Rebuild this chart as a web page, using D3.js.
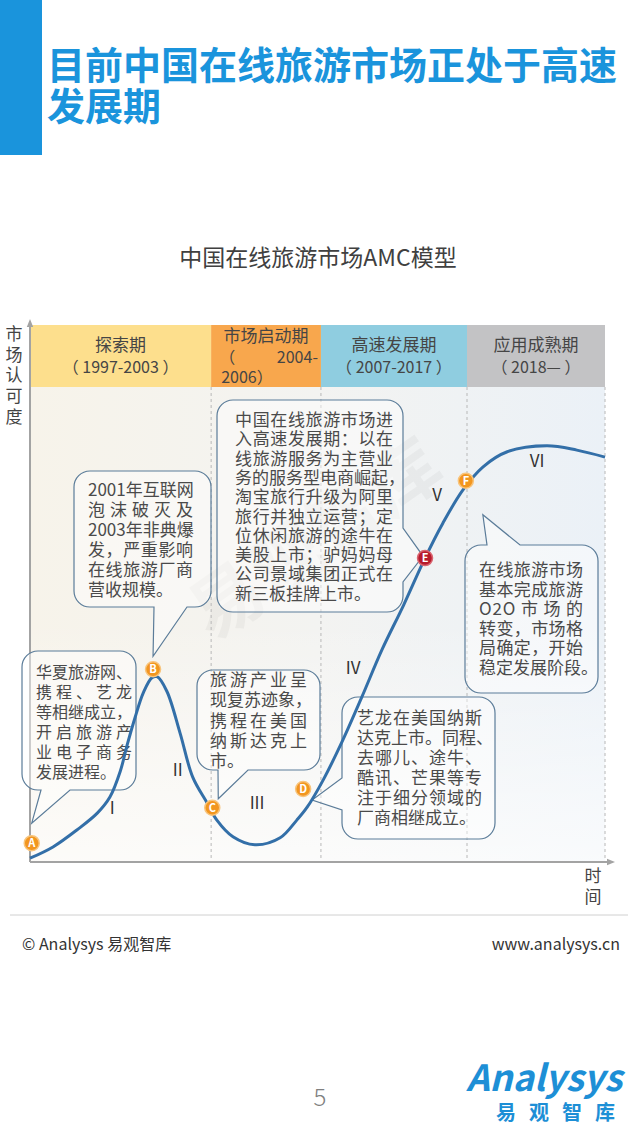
<!DOCTYPE html>
<html>
<head>
<meta charset="utf-8">
<script src="https://cdn.jsdelivr.net/npm/d3@7"></script>
<style>
body { margin: 0; background: #fff; }
svg { display: block; }
text { font-family: "Noto Sans CJK SC", "Noto Sans", sans-serif; }
</style>
</head>
<body>
<script>
// page is 640 x 1138
var W = 640, H = 1138;

// phases in the top band (time runs 0..100 along x)
var phaseNames = ['探索期', '市场启动期', '高速发展期', '应用成熟期'];
var phaseYears = ['（ 1997-2003 ）', '（2004-2006）', '（ 2007-2017 ）', '（ 2018— ）'];
var phaseEnds = [31.5, 50.6, 76, 100];

// the AMC curve (time, recognition)
var curveT = [0, 4.0, 8.2, 11.7, 13.9, 15.7, 16.9, 18.3, 19.7, 21.2, 22.1, 23.8, 26.1, 28.3, 30.8, 32.5,
  35.3, 39.1, 43.5, 46.4, 48.2, 51.0, 54.4, 57.7, 61.2, 65.0, 68.7, 71.8, 75.3, 78.8, 83.0, 89.9, 95.1, 100];
var curveV = [0.7, 2.8, 6.0, 9.1, 12.1, 16.9, 21.8, 27.0, 31.5, 34.3, 34.5, 31.8, 24.0, 15.8, 11.0, 7.8,
  4.7, 3.2, 4.5, 7.8, 10.2, 15.3, 22.7, 30.7, 39.5, 47.9, 56.6, 63.1, 69.3, 73.6, 76.4, 77.5, 76.7, 75.4];

// key points on the curve
var markerNames = ['A', 'B', 'C', 'D', 'E', 'F'];
var markerT = [0.3, 21.4, 31.7, 47.5, 68.7, 75.8];
var markerV = [3.5, 35.9, 10.1, 13.6, 56.6, 71.0];

// stage numerals
var stageNames = ['I', 'II', 'III', 'IV', 'V', 'VI'];
var stageT = [14.3, 25.7, 39.5, 56.2, 70.8, 88.2];
var stageV = [10.1, 17.1, 11.0, 36.1, 68.3, 74.7];

// callout texts, one per marker
var notes = [
  ['华夏旅游网、', '携程、艺龙', '等相继成立，', '开启旅游产', '业电子商务', '发展进程。'],
  ['2001年互联网', '泡沫破灭及', '2003年非典爆', '发，严重影响', '在线旅游厂商', '营收规模。'],
  ['旅游产业呈', '现复苏迹象，', '携程在美国', '纳斯达克上', '市。'],
  ['艺龙在美国纳斯', '达克上市。同程、', '去哪儿、途牛、', '酷讯、芒果等专', '注于细分领域的', '厂商相继成立。'],
  ['中国在线旅游市场进', '入高速发展期：以在', '线旅游服务为主营业', '务的服务型电商崛起，', '淘宝旅行升级为阿里',
   '旅行并独立运营；定', '位休闲旅游的途牛在', '美股上市；驴妈妈母', '公司景域集团正式在', '新三板挂牌上市。'],
  ['在线旅游市场', '基本完成旅游', 'O2O 市 场 的', '转变，市场格', '局确定，开始', '稳定发展阶段。']
];

var phaseColors = ['#fddf8d', '#f8a74d', '#8fcde0', '#c3c3c5'];

var svg = d3.select('body').append('svg')
  .attr('width', W)
  .attr('height', H);

var defs = svg.append('defs');

var bg = defs.append('linearGradient').attr('id', 'bg');
bg.append('stop').attr('offset', '0').attr('stop-color', '#f7f3ea');
bg.append('stop').attr('offset', '0.5').attr('stop-color', '#f3f3f1');
bg.append('stop').attr('offset', '1').attr('stop-color', '#ebf1f7');

var fade = defs.append('linearGradient').attr('id', 'fade')
  .attr('x1', 0).attr('y1', 0).attr('x2', 0).attr('y2', 1);
fade.append('stop').attr('offset', '0').attr('stop-color', '#fff').attr('stop-opacity', 0);
fade.append('stop').attr('offset', '1').attr('stop-color', '#fff').attr('stop-opacity', 0.7);

defs.append('marker')
  .attr('id', 'arrow')
  .attr('viewBox', '0 0 10 10')
  .attr('refX', 5).attr('refY', 5)
  .attr('markerWidth', 4).attr('markerHeight', 4)
  .attr('orient', 'auto')
  .append('path')
  .attr('d', 'M0,1L10,5L0,9Z')
  .attr('fill', '#a3a3a3');

// header block
svg.append('rect')
  .attr('x', 0).attr('y', 0)
  .attr('width', 42).attr('height', 155)
  .attr('fill', '#1a94dc');

svg.append('text')
  .attr('x', 47).attr('y', 79)
  .attr('font-size', 38).attr('font-weight', 700)
  .attr('fill', '#1a94dc')
  .text('目前中国在线旅游市场正处于高速');
svg.append('text')
  .attr('x', 47).attr('y', 120)
  .attr('font-size', 38).attr('font-weight', 700)
  .attr('fill', '#1a94dc')
  .text('发展期');

svg.append('text')
  .attr('x', 318).attr('y', 266)
  .attr('text-anchor', 'middle')
  .attr('font-size', 23)
  .attr('fill', '#404040')
  .text('中国在线旅游市场AMC模型');

// scales
var x = d3.scaleLinear().domain([0, 100]).range([30, 605]);
var y = d3.scaleLinear().domain([0, 100]).range([862, 325]);
var bandBottom = 387;

// plot background
svg.append('rect')
  .attr('x', x(0)).attr('y', bandBottom)
  .attr('width', x(100) - x(0)).attr('height', y(0) - bandBottom)
  .attr('fill', 'url(#bg)');
svg.append('rect')
  .attr('x', x(0)).attr('y', 620)
  .attr('width', x(100) - x(0)).attr('height', y(0) - 620)
  .attr('fill', 'url(#fade)');

// faint watermark
svg.append('text')
  .attr('transform', 'translate(330,560) rotate(-35)')
  .attr('text-anchor', 'middle')
  .attr('font-size', 72).attr('font-weight', 700)
  .attr('fill', '#000').attr('fill-opacity', 0.035)
  .text('易观智库');

// phase bands
var phaseStarts = [0].concat(phaseEnds.slice(0, -1));
var phases = phaseNames.map(function(n, i) {
  return {name: n, years: phaseYears[i], t0: phaseStarts[i], t1: phaseEnds[i], color: phaseColors[i]};
});

svg.selectAll('.band')
  .data(phases)
  .enter()
  .append('rect')
  .attr('class', 'band')
  .attr('x', function(d) { return x(d.t0); })
  .attr('y', y(100))
  .attr('width', function(d) { return x(d.t1) - x(d.t0); })
  .attr('height', bandBottom - y(100))
  .attr('fill', function(d) { return d.color; });

svg.selectAll('.divider')
  .data(phases)
  .enter()
  .append('line')
  .attr('class', 'divider')
  .attr('x1', function(d) { return x(d.t1); })
  .attr('x2', function(d) { return x(d.t1); })
  .attr('y1', bandBottom)
  .attr('y2', y(0))
  .attr('stroke', '#b8b8b8')
  .attr('stroke-dasharray', '3,3');

phases.forEach(function(d) {
  var cx = (x(d.t0) + x(d.t1)) / 2;
  var colW = x(d.t1) - x(d.t0);
  var g = svg.append('g').attr('fill', '#454545');
  if (colW < 130) {
    // narrow column: years wrap onto two lines
    var parts = d.years.split('-');
    g.append('text').attr('x', cx).attr('y', 342)
      .attr('text-anchor', 'middle').attr('font-size', 17).text(d.name);
    g.append('text').attr('x', x(d.t0) + 8).attr('y', 363)
      .attr('font-size', 16).text('（');
    g.append('text').attr('x', x(d.t1) - 3).attr('y', 363)
      .attr('text-anchor', 'end').attr('font-size', 16).text(parts[0].replace('（', '') + '-');
    g.append('text').attr('x', x(d.t0) + 10).attr('y', 383)
      .attr('font-size', 16).text(parts[1]);
  } else {
    g.append('text').attr('x', cx).attr('y', 351)
      .attr('text-anchor', 'middle').attr('font-size', 17).text(d.name);
    g.append('text').attr('x', cx).attr('y', 373)
      .attr('text-anchor', 'middle').attr('font-size', 16).text(d.years);
  }
});

// axes
svg.append('line')
  .attr('x1', x(0)).attr('y1', y(0))
  .attr('x2', x(0)).attr('y2', y(100) - 2)
  .attr('stroke', '#a3a3a3').attr('stroke-width', 2)
  .attr('marker-end', 'url(#arrow)');
svg.append('line')
  .attr('x1', x(0)).attr('y1', y(0))
  .attr('x2', x(100) + 6).attr('y2', y(0))
  .attr('stroke', '#a3a3a3').attr('stroke-width', 2)
  .attr('marker-end', 'url(#arrow)');

var yTitle = '市场认可度'.split('');
svg.selectAll('.ytitle')
  .data(yTitle)
  .enter()
  .append('text')
  .attr('class', 'ytitle')
  .attr('x', 14)
  .attr('y', function(d, i) { return 340 + i * 20.7; })
  .attr('text-anchor', 'middle')
  .attr('font-size', 17)
  .attr('fill', '#444')
  .text(function(d) { return d; });

['时', '间'].forEach(function(c, i) {
  svg.append('text')
    .attr('x', 593).attr('y', 882 + i * 21)
    .attr('text-anchor', 'middle')
    .attr('font-size', 17).attr('fill', '#444')
    .text(c);
});

// callout bubbles (layout in pixels, tail tip hooks to the marker)
var bubbles = [
  {x: 22,  y: 651, w: 114, h: 139, side: 'bottom', b1: 19, b2: 48,  dx: 0,   dy: -20, tx: 36,  ty: 678, lh: 20,   fs: 16, tw: 96},
  {x: 74,  y: 471, w: 137, h: 136, side: 'bottom', b1: 80, b2: 113, dx: 0,   dy: -13, tx: 88,  ty: 496, lh: 20,   fs: 17, tw: 105},
  {x: 197, y: 670, w: 123, h: 100, side: 'bottom', b1: 21, b2: 51,  dx: 6,   dy: -9,  tx: 210, ty: 686, lh: 20.3, fs: 17, tw: 97},
  {x: 342, y: 697, w: 153, h: 142, side: 'left',   b1: 81, b2: 113, dx: 9,   dy: 11,  tx: 357, ty: 724, lh: 20,   fs: 17, tw: 125},
  {x: 217, y: 400, w: 186, h: 212, side: 'right',  b1: 128, b2: 182, dx: -2, dy: -2,  tx: 235, ty: 426, lh: 19.3, fs: 17, tw: 158},
  {x: 465, y: 545, w: 133, h: 148, side: 'top',    b1: 22, b2: 55,  dx: 17,  dy: 34,  tx: 479, ty: 576, lh: 19.5, fs: 17, tw: 104}
];

function bubblePath(b, tip) {
  var bx = b.x, by = b.y, w = b.w, h = b.h, r = 16;
  var p = d3.path();
  p.moveTo(bx + r, by);
  if (b.side === 'top') { p.lineTo(bx + b.b1, by); p.lineTo(tip[0], tip[1]); p.lineTo(bx + b.b2, by); }
  p.lineTo(bx + w - r, by);
  p.arcTo(bx + w, by, bx + w, by + r, r);
  if (b.side === 'right') { p.lineTo(bx + w, by + b.b1); p.lineTo(tip[0], tip[1]); p.lineTo(bx + w, by + b.b2); }
  p.lineTo(bx + w, by + h - r);
  p.arcTo(bx + w, by + h, bx + w - r, by + h, r);
  if (b.side === 'bottom') { p.lineTo(bx + b.b2, by + h); p.lineTo(tip[0], tip[1]); p.lineTo(bx + b.b1, by + h); }
  p.lineTo(bx + r, by + h);
  p.arcTo(bx, by + h, bx, by + h - r, r);
  if (b.side === 'left') { p.lineTo(bx, by + b.b2); p.lineTo(tip[0], tip[1]); p.lineTo(bx, by + b.b1); }
  p.lineTo(bx, by + r);
  p.arcTo(bx, by, bx + r, by, r);
  p.closePath();
  return p.toString();
}

bubbles.forEach(function(b, i) {
  var tip = [x(markerT[i]) + b.dx, y(markerV[i]) + b.dy];
  svg.append('path')
    .attr('d', bubblePath(b, tip))
    .attr('fill', '#fff').attr('fill-opacity', 0.45)
    .attr('stroke', '#5b7c99').attr('stroke-width', 1.2);

  var lines = notes[i];
  lines.forEach(function(line, j) {
    var t = svg.append('text')
      .attr('x', b.tx)
      .attr('y', b.ty + j * b.lh)
      .attr('font-size', b.fs)
      .attr('fill', '#4a4a4a')
      .text(line);
    // justify all but the last line, like the original text boxes
    if (j < lines.length - 1) {
      var len = t.node().getComputedTextLength();
      if (len < b.tw) t.attr('textLength', b.tw).attr('lengthAdjust', 'spacing');
    }
  });
});

// the curve
var pts = curveT.map(function(t, i) { return {t: t, v: curveV[i]}; });
var line = d3.line()
  .x(function(d) { return x(d.t); })
  .y(function(d) { return y(d.v); })
  .curve(d3.curveCatmullRom.alpha(0.5));

svg.append('path')
  .datum(pts)
  .attr('d', line)
  .attr('fill', 'none')
  .attr('stroke', '#336fa8')
  .attr('stroke-width', 3);

// stage numerals
svg.selectAll('.stage')
  .data(stageNames)
  .enter()
  .append('text')
  .attr('class', 'stage')
  .attr('x', function(d, i) { return x(stageT[i]); })
  .attr('y', function(d, i) { return y(stageV[i]) + 6; })
  .attr('text-anchor', 'middle')
  .attr('font-family', 'Open Sans, sans-serif')
  .attr('font-size', 17)
  .attr('fill', '#333')
  .text(function(d) { return d; });

// markers
var marks = svg.selectAll('.mark')
  .data(markerNames)
  .enter()
  .append('g')
  .attr('class', 'mark')
  .attr('transform', function(d, i) { return 'translate(' + x(markerT[i]) + ',' + y(markerV[i]) + ')'; });

marks.append('circle')
  .attr('r', 7.5)
  .attr('fill', function(d) { return d === 'E' ? '#b71a2c' : '#f2961f'; })
  .attr('stroke', function(d) { return d === 'E' ? '#d9646f' : '#f8c47c'; })
  .attr('stroke-width', 1.5);

marks.append('text')
  .attr('y', 4)
  .attr('text-anchor', 'middle')
  .attr('font-family', 'DejaVu Sans, sans-serif')
  .attr('font-size', 11).attr('font-weight', 700)
  .attr('fill', '#fff')
  .text(function(d) { return d; });

// footer
svg.append('line')
  .attr('x1', 10).attr('x2', 628)
  .attr('y1', 915).attr('y2', 915)
  .attr('stroke', '#d0d0d0').attr('stroke-width', 1);

svg.append('text')
  .attr('x', 22).attr('y', 950)
  .attr('font-size', 16).attr('fill', '#333')
  .text('© Analysys 易观智库');

svg.append('text')
  .attr('x', 620).attr('y', 950)
  .attr('text-anchor', 'end')
  .attr('font-size', 16).attr('fill', '#333')
  .text('www.analysys.cn');

svg.append('text')
  .attr('x', 320).attr('y', 1106)
  .attr('text-anchor', 'middle')
  .attr('font-size', 24).attr('font-weight', 300)
  .attr('fill', '#808080')
  .text('5');

svg.append('text')
  .attr('x', 622).attr('y', 1091)
  .attr('text-anchor', 'end')
  .attr('font-family', 'DejaVu Sans, sans-serif')
  .attr('font-size', 36).attr('font-style', 'italic').attr('font-weight', 700)
  .attr('fill', '#1d8fd6')
  .text('Analysys');

svg.append('text')
  .attr('x', 496).attr('y', 1120)
  .attr('font-size', 20).attr('font-weight', 700)
  .attr('letter-spacing', 13)
  .attr('fill', '#1d8fd6')
  .text('易观智库');
</script>
</body>
</html>
